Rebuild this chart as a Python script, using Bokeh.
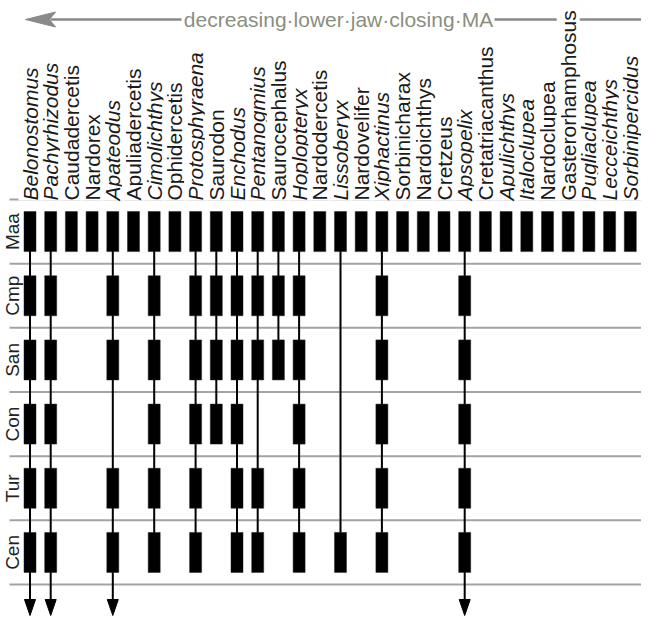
import math
from bokeh.plotting import figure
from bokeh.models import Range1d, ColumnDataSource
from bokeh.core.properties import value
from bokeh.embed import file_html
from bokeh.resources import INLINE

# ---------------- data ----------------
taxa = ["Belonostomus", "Pachyrhizodus", "Caudadercetis", "Nardorex", "Apateodus",
        "Apuliadercetis", "Cimolichthys", "Ophidercetis", "Protosphyraena", "Saurodon",
        "Enchodus", "Pentanogmius", "Saurocephalus", "Hoplopteryx", "Nardodercetis",
        "Lissoberyx", "Nardovelifer", "Xiphactinus", "Sorbinicharax", "Nardoichthys",
        "Cretzeus", "Apsopelix", "Cretatriacanthus", "Apulichthys", "Italoclupea",
        "Nardoclupea", "Gasterorhamphosus", "Pugliaclupea", "Lecceichthys", "Sorbinipercidus"]
italic_taxa = ["Belonostomus", "Pachyrhizodus", "Apateodus", "Cimolichthys", "Protosphyraena",
               "Enchodus", "Pentanogmius", "Hoplopteryx", "Lissoberyx", "Xiphactinus",
               "Apsopelix", "Apulichthys", "Italoclupea", "Pugliaclupea", "Lecceichthys",
               "Sorbinipercidus"]
stages = ["Maa", "Cmp", "San", "Con", "Tur", "Cen"]
occ_Maa = list(taxa)
occ_Cmp = ["Belonostomus", "Pachyrhizodus", "Apateodus", "Cimolichthys", "Protosphyraena",
           "Saurodon", "Enchodus", "Pentanogmius", "Saurocephalus", "Hoplopteryx",
           "Xiphactinus", "Apsopelix"]
occ_San = ["Belonostomus", "Pachyrhizodus", "Apateodus", "Cimolichthys", "Protosphyraena",
           "Saurodon", "Enchodus", "Pentanogmius", "Saurocephalus", "Hoplopteryx",
           "Xiphactinus", "Apsopelix"]
occ_Con = ["Belonostomus", "Pachyrhizodus", "Cimolichthys", "Protosphyraena", "Saurodon",
           "Enchodus", "Hoplopteryx", "Xiphactinus", "Apsopelix"]
occ_Tur = ["Belonostomus", "Pachyrhizodus", "Apateodus", "Cimolichthys", "Protosphyraena",
           "Enchodus", "Pentanogmius", "Hoplopteryx", "Xiphactinus", "Apsopelix"]
occ_Cen = ["Belonostomus", "Pachyrhizodus", "Apateodus", "Cimolichthys", "Protosphyraena",
           "Enchodus", "Pentanogmius", "Hoplopteryx", "Lissoberyx", "Xiphactinus", "Apsopelix"]
occurrences = [occ_Maa, occ_Cmp, occ_San, occ_Con, occ_Tur, occ_Cen]
extends_older = ["Belonostomus", "Pachyrhizodus", "Apateodus", "Apsopelix"]
axis_title = "decreasing\u00b7lower\u00b7jaw\u00b7closing\u00b7MA"

# ---------------- layout ----------------
W, H = 641, 616
OFF = 8
COL0, COLW = 37.5, 20.7
ROW0, ROWH = 207.0, 64.17


def xd(px):
    return (px - COL0) / COLW


def yd(py):
    return (py - ROW0) / ROWH


FONT = value("Liberation Sans")

p = figure(width=W, height=H, output_backend="svg", toolbar_location=None,
           x_range=Range1d(xd(OFF), xd(OFF + W)),
           y_range=Range1d(yd(OFF + H), yd(OFF)),
           x_axis_location=None, y_axis_location=None, min_border=0,
           outline_line_color=None, background_fill_color="white",
           border_fill_color="white")
p.grid.visible = False

# horizontal stage boundaries
nb = len(stages) + 1
p.segment(x0=[xd(17)] * nb, x1=[xd(OFF + W) + 1] * nb,
          y0=list(range(nb)), y1=list(range(nb)), line_color="#a3a3a3", line_width=2)

# range lines
lx, ly0, ly1 = [], [], []
for i, t in enumerate(taxa):
    rows = [r for r, occ in enumerate(occurrences) if t in occ]
    if t in extends_older:
        lx.append(i); ly0.append(min(rows) + 0.5); ly1.append(yd(612))
    elif len(rows) > 1:
        lx.append(i); ly0.append(min(rows) + 0.5); ly1.append(max(rows) + 0.5)
p.segment(x0=lx, x1=lx, y0=ly0, y1=ly1, line_color="black", line_width=2)

# arrowheads for ranges extending further back
axs, ays = [], []
for t in extends_older:
    i = taxa.index(t)
    hw = 5.5 / COLW
    axs.append([i - hw, i + hw, i])
    ays.append([yd(607), yd(607), yd(623)])
p.patches(xs=axs, ys=ays, fill_color="black", line_color="black", line_width=1)

# occurrence bars
bx, by = [], []
for r, occ in enumerate(occurrences):
    for t in occ:
        bx.append(taxa.index(t)); by.append(r + 0.5)
p.rect(x=bx, y=by, width=12 / COLW, height=40 / ROWH, fill_color="black",
       line_color="#222222", line_width=0.5)

# top arrow (decreasing MA)
ty = yd(27)
p.segment(x0=[xd(58), xd(502)], x1=[xd(189), xd(OFF + W) + 1], y0=[ty, ty], y1=[ty, ty],
          line_color="#8a8a8a", line_width=2.5)
p.patch(x=[xd(33), xd(63), xd(57), xd(63)], y=[ty, yd(19.5), ty, yd(34.5)],
        fill_color="#8a8a8a", line_color="#8a8a8a")
p.text(x=[xd(346)], y=[ty], text=[axis_title], text_align="center", text_baseline="middle",
       text_font=FONT, text_font_size="21px", text_color="#8b8f80")

# taxon labels
lab_src = ColumnDataSource(dict(
    x=list(range(len(taxa))), y=[yd(208)] * len(taxa), text=taxa,
    style=["italic" if t in italic_taxa else "normal" for t in taxa]))
p.text(x="x", y="y", text="text", source=lab_src, angle=math.pi / 2,
       text_align="left", text_baseline="middle", text_font=FONT,
       text_font_size="21px", text_font_style="style", text_color="#1a1a1a",
       background_fill_color="white")

# stage labels
p.text(x=[xd(20)] * len(stages), y=[r + 0.5 for r in range(len(stages))], text=stages,
       angle=math.pi / 2, text_align="center", text_baseline="middle",
       text_font=FONT, text_font_size="19px", text_color="#222222")

open("out.html", "w").write(file_html(p, INLINE))
